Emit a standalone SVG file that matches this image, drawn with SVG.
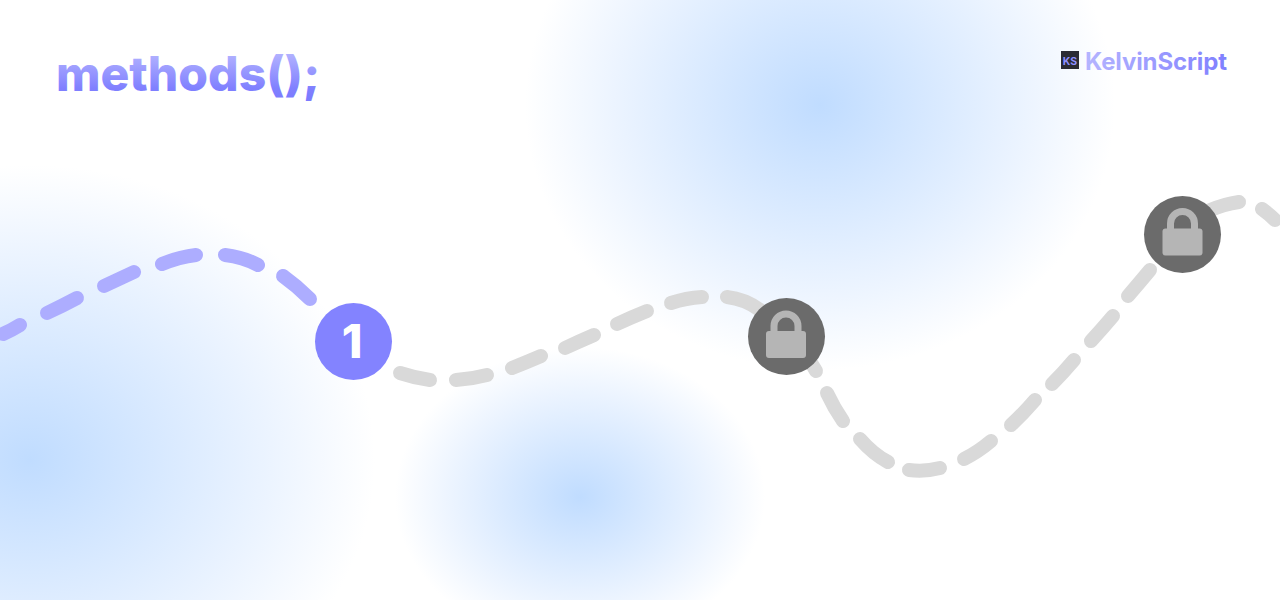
<svg xmlns="http://www.w3.org/2000/svg" width="1280" height="600" viewBox="0 0 1280 600">
<style>
.dash{fill:none;stroke-width:14;stroke-linecap:round}
.done{stroke:#adadff}
.todo{stroke:#d9d9d9}
.t{font-family:Inter,"Liberation Sans",sans-serif;font-weight:700}
.lockbg{fill:#6b6b6b}
.lockbody{fill:#b5b5b5}
.shackle{fill:none;stroke:#b5b5b5;stroke-width:7}
</style>
<defs>
<radialGradient id="blob">
<stop offset="0" stop-color="#c0dcff"/>
<stop offset="0.35" stop-color="#d6e8ff"/>
<stop offset="0.7" stop-color="#ecf4ff"/>
<stop offset="1" stop-color="#fff"/>
</radialGradient>
<linearGradient id="title" x1="0" y1="0" x2="0" y2="1">
<stop offset="0" stop-color="#c0c0ff"/>
<stop offset="0.75" stop-color="#8080ff"/>
<stop offset="1" stop-color="#7a7aff"/>
</linearGradient>
<linearGradient id="logo" x1="0" y1="0" x2="1" y2="0">
<stop offset="0" stop-color="#b5b5ff"/>
<stop offset="1" stop-color="#8080ff"/>
</linearGradient>
<g id="lock">
<path class="shackle" d="M-12 0V-10A12 12 0 0 1 12 -10V0"/>
<rect class="lockbody" x="-20" y="-5" width="40" height="27" rx="3"/>
</g>
</defs>
<rect width="1280" height="600" fill="#fff"/>
<g id="blobs">
<ellipse cx="820" cy="105" rx="295" ry="265" fill="url(#blob)"/>
<ellipse cx="580" cy="497" rx="185" ry="150" fill="url(#blob)"/>
<ellipse cx="30" cy="460" rx="345" ry="295" fill="url(#blob)"/>
</g>
<g id="connectors">
<path class="dash done" d="M3 334Q12 330 20 325"/>
<path class="dash done" d="M47 313Q62 306 77 298"/>
<path class="dash done" d="M104 286Q119 279 134 272"/>
<path class="dash done" d="M162 264Q179 257 196 255"/>
<path class="dash done" d="M225 255Q243 257 258 265"/>
<path class="dash done" d="M283 276Q297 286 310 299"/>
<path class="dash todo" d="M400 373Q415 378 430 380"/>
<path class="dash todo" d="M456 380Q472 379 487 375"/>
<path class="dash todo" d="M512 368Q527 362 541 356"/>
<path class="dash todo" d="M565 348Q580 341 594 335"/>
<path class="dash todo" d="M617 324Q632 317 647 311"/>
<path class="dash todo" d="M671 303Q686 298 702 297"/>
<path class="dash todo" d="M727 297Q745 299 760 310"/>
<path class="dash todo" d="M805 355Q812 363 816 371"/>
<path class="dash todo" d="M827 393Q834 408 843 421"/>
<path class="dash todo" d="M860 439Q873 454 888 462"/>
<path class="dash todo" d="M909 470Q925 472 940 468"/>
<path class="dash todo" d="M964 459Q978 452 991 441"/>
<path class="dash todo" d="M1011 425Q1023 414 1035 400"/>
<path class="dash todo" d="M1052 384Q1063 373 1074 360"/>
<path class="dash todo" d="M1091 341Q1102 329 1113 316"/>
<path class="dash todo" d="M1128 296Q1140 282 1150 270"/>
<path class="dash todo" d="M1208 211Q1224 204 1239 202"/>
<path class="dash todo" d="M1262 209Q1269 214 1275 220"/>
</g>
<g id="title"><text class="t" x="56" y="91" font-size="48" font-weight="800" style="font-weight:800" fill="url(#title)">methods();</text></g>
<g id="logo-mark">
<rect x="1061" y="51" width="18" height="18" fill="#2b2b33"/>
<text class="t" x="1070" y="65" font-size="10.500" fill="#8f8fff" text-anchor="middle">KS</text>
<text class="t" x="1085" y="70" font-size="24" fill="url(#logo)" textLength="142">KelvinScript</text>
</g>
<g id="node-1">
<circle cx="353.500" cy="341.500" r="38.500" fill="#8383ff"/>
<text class="t" x="352" y="358" font-size="47" style="font-weight:800" fill="#fff" text-anchor="middle">1</text>
</g>
<g id="node-2">
<circle class="lockbg" cx="786.500" cy="336.500" r="38.500"/>
<use href="#lock" x="786" y="336"/>
</g>
<g id="node-3">
<circle class="lockbg" cx="1182.500" cy="234.500" r="38.500"/>
<use href="#lock" x="1182.500" y="233.500"/>
</g>
</svg>
